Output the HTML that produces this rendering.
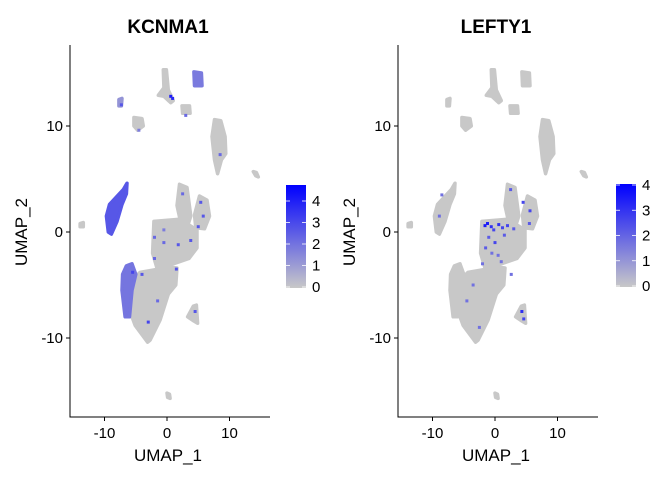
<!DOCTYPE html>
<html><head><meta charset="utf-8">
<style>
body{margin:0;background:#fff;}
svg{display:block;font-family:"Liberation Sans",Arial,sans-serif;}
</style></head>
<body>
<svg id="chart" width="672" height="480" viewBox="0 0 672 480" xmlns="http://www.w3.org/2000/svg"></svg>
<script>
// ---- data (UMAP coordinates) ----
const genes = ["KCNMA1", "LEFTY1"];
const maxExpr = [4.6, 4.0];
const legendTicks = [[0,1,2,3,4],[0,1,2,3,4]];
const xTicks = [-10, 0, 10];
const yTicks = [-10, 0, 10];
// cluster outlines (polygons in UMAP units)
const clusterNames = ["bottom-triangle","central-square","connector","upper-lobe","right-lobe","left-cluster","lower-left","top-right-long","small-left-top","top-center","top-right-small","small-mid-top","tiny-top-left","far-left-dot","far-right-dot","bottom-dot","small-bottom-right"];
const clusterPolys = [
 [[-6.4,-5],[-4.3,-3.8],[-0.3,-3.4],[0.4,-5.5],[-1.1,-8.3],[-2.7,-10.2],[-3.1,-10.4],[-5.1,-8.8],[-6.6,-6.4]],
 [[-2.1,1],[2,1.2],[4.8,0.2],[4.8,-1.5],[3.5,-2.5],[1,-3],[-1.5,-3.6],[-2.3,-2]],
 [[-1,-3.2],[1.6,-3.4],[1.4,-5],[0,-6],[-1,-5]],
 [[2,4.5],[3.2,4.2],[3.8,1.5],[3.2,0.4],[2.3,0.6],[1.6,2.5]],
 [[5.2,3.4],[6.4,3],[6.8,1.5],[6,0.3],[4.6,0.4],[4.4,1.6]],
 [[-6.4,4.6],[-7,4],[-9.2,2.6],[-9.7,1.5],[-9.4,0],[-8.9,-0.2],[-8,1],[-7.2,2.6],[-6.5,3.6]],
 [[-6.5,-3.2],[-5.6,-3],[-5,-4],[-5.6,-5.5],[-6,-8],[-6.7,-8],[-7.2,-5.5],[-7.1,-4]],
 [[7.6,10.6],[8.6,10.5],[9.3,9],[9.4,7.4],[8.7,6.8],[8.1,5.5],[7.6,6.8],[7.2,9]],
 [[-5.3,10.8],[-4,10.7],[-3.8,10],[-4.7,9.6],[-5.3,10]],
 [[-0.6,15.3],[-0.1,15.3],[0.2,13.4],[1,12.4],[0.6,12.2],[-0.5,12.8],[-1.4,12.9],[-0.5,13.6]],
 [[4.3,15.1],[5.5,15],[5.6,13.8],[4.4,13.8]],
 [[2.4,11.9],[3.6,11.9],[3.7,11.2],[2.5,11.2]],
 [[-7.7,12.5],[-7.2,12.6],[-7.3,11.9],[-7.7,11.9]],
 [[-13.9,0.8],[-13.4,0.9],[-13.4,0.5],[-13.9,0.5]],
 [[13.8,5.7],[14.3,5.6],[14.6,5.2],[14.2,5.3]],
 [[0,-15.2],[0.4,-15.3],[0.5,-15.7],[0.1,-15.6]],
 [[4.2,-7],[4.7,-6.9],[4.9,-8.6],[4.3,-8.4],[3.3,-8]]
];
// per-gene cluster-level expression (0..max)
const clusterExprKCNMA1 = [0,0,0,0,0,2.6,1.9,0,0,0,1.8,0,1.2,0,0,0,0];
const clusterExprLEFTY1 = [0,0,0,0,0,0,0,0,0,0,0,0,0,0,0,0,0];
// individual expressing cells: x, y, value
const spotXKCNMA1 = [0.6,0.9,-0.5,-2,1.5,3.8,-3,-4,2.5,5.4,5.8,5,-1.5,-7.3,-5.5,8.5,3,-2,1.8,-0.5,4.5,-4.5];
const spotYKCNMA1 = [12.8,12.6,-1,-2.5,-3.5,-0.8,-8.5,-4,3.6,2.8,1.5,0.5,-6.5,12,-3.8,7.3,11,-0.5,-1.2,0.2,-7.5,9.6];
const spotVKCNMA1 = [4.5,4.2,2.5,2.5,3,3,3.5,3,2.5,3,3,3,2.5,3,3.5,2.5,2.5,2.5,3,2,3,2];
const spotXLEFTY1 = [-1.6,-1.2,-0.6,-0.2,0.6,1.2,-1,0,1.5,-1.5,0.5,-0.5,2,3,2.5,4.5,5.6,5.5,-8.5,-8.9,-3.5,-4.5,-2.5,4.3,4.6,2.6,-2,1];
const spotYLEFTY1 = [0.6,0.8,0.5,0.2,0.7,0.4,-0.5,-1,-0.3,-1.5,-2.2,-2,0.6,0.3,4,2.8,2,0.8,3.5,1.5,-5,-6.5,-9,-7.5,-8.2,-4,-3,-2.8];
const spotVLEFTY1 = [4,4,3.5,3,3.5,3,2.5,3,2.5,2.5,2,2,3,2.5,2.5,3,3,2.5,2,2,2,2,2,3.5,3,2,2,2];

const panels = [
 {x0:70, y0:45, x1:270, y1:417, cx:167, ppx:6.25, cy:232, ppy:10.6, legX:286, legY:185, legTop:202},
 {x0:398, y0:45, x1:598, y1:417, cx:495, ppx:6.25, cy:232, ppy:10.6, legX:616, legY:184, legTop:186}
];
const clusterExpr = [clusterExprKCNMA1, clusterExprLEFTY1];
const spotsX = [spotXKCNMA1, spotXLEFTY1], spotsY=[spotYKCNMA1, spotYLEFTY1], spotsV=[spotVKCNMA1, spotVLEFTY1];

const NS="http://www.w3.org/2000/svg";
const svg=document.getElementById('chart');
function mk(tag, attrs, parent){const e=document.createElementNS(NS,tag);for(const k in attrs)e.setAttribute(k,attrs[k]);(parent||svg).appendChild(e);return e;}
function col(v,max){const t=Math.max(0,Math.min(1,v/max));const r=Math.round(200*(1-t)),g=Math.round(200*(1-t)),b=Math.round(200+55*t);return `rgb(${r},${g},${b})`;}

panels.forEach((p,gi)=>{
  const sx=v=>p.cx+v*p.ppx, sy=v=>p.cy-v*p.ppy;
  const g=mk('g',{});
  
  
  clusterPolys.forEach((poly,ci)=>{
    const d='M'+poly.map(q=>sx(q[0]).toFixed(1)+','+sy(q[1]).toFixed(1)).join('L')+'Z';
    const c=col(clusterExpr[gi][ci],maxExpr[gi]);
    const e=mk('path',{d:d,fill:c,stroke:c,'stroke-width':3.5,'stroke-linejoin':'round'},g);
    
    
  });
  spotsX[gi].forEach((x,i)=>{
    const e=mk('rect',{x:sx(x)-1.5,y:sy(spotsY[gi][i])-1.5,width:3,height:3,fill:col(spotsV[gi][i],maxExpr[gi]*1.15)},g);
    
    
  });
  // axes
  let e=mk('line',{x1:p.x0,y1:p.y0,x2:p.x0,y2:p.y1+0.5,stroke:'#000','stroke-width':1});
   
  e=mk('line',{x1:p.x0-0.5,y1:p.y1,x2:p.x1,y2:p.y1,stroke:'#000','stroke-width':1});
   
  xTicks.forEach(t=>{
    mk('line',{x1:sx(t),y1:p.y1,x2:sx(t),y2:p.y1+4,stroke:'#000'});
    const tx=mk('text',{x:sx(t),y:p.y1+21,'text-anchor':'middle','font-size':15,fill:'#000'});
    tx.textContent=t;
     
  });
  yTicks.forEach(t=>{
    mk('line',{x1:p.x0-4,y1:sy(t),x2:p.x0,y2:sy(t),stroke:'#000'});
    const tx=mk('text',{x:p.x0-7,y:sy(t)+5,'text-anchor':'end','font-size':15,fill:'#000'});
    tx.textContent=t;
     
  });
  let tt=mk('text',{x:(p.x0+p.x1)/2-2,y:33,'text-anchor':'middle','font-size':19,'font-weight':'bold'});
  tt.textContent=genes[gi];
   
  tt=mk('text',{x:(p.x0+p.x1)/2-2,y:461,'text-anchor':'middle','font-size':17});
  tt.textContent='UMAP_1';
   
  tt=mk('text',{x:0,y:0,'text-anchor':'middle','font-size':17,transform:`translate(${p.x0-43},${p.cy}) rotate(-90)`});
  tt.textContent='UMAP_2';
   
  // legend
  const gid='grad'+gi;
  const defs=mk('defs',{});
  const lg=mk('linearGradient',{id:gid,x1:0,y1:1,x2:0,y2:0},defs);
  mk('stop',{offset:0,'stop-color':'#c8c8c8'},lg);
  mk('stop',{offset:1,'stop-color':'#0000ff'},lg);
  const bot=p.legY+103;
  e=mk('rect',{x:p.legX,y:p.legY,width:20,height:103,fill:`url(#${gid})`});
   
  const per=(bot-p.legTop)/legendTicks[gi][legendTicks[gi].length-1];
  legendTicks[gi].forEach(t=>{
    const yy=bot-1-t*per;
    mk('line',{x1:p.legX,y1:yy,x2:p.legX+4,y2:yy,stroke:'#fff','stroke-width':0.8});
    mk('line',{x1:p.legX+16,y1:yy,x2:p.legX+20,y2:yy,stroke:'#fff','stroke-width':0.8});
    const tx=mk('text',{x:p.legX+26,y:yy+5,'font-size':15});
    tx.textContent=t;
     
  });
});
</script>
</body></html>
